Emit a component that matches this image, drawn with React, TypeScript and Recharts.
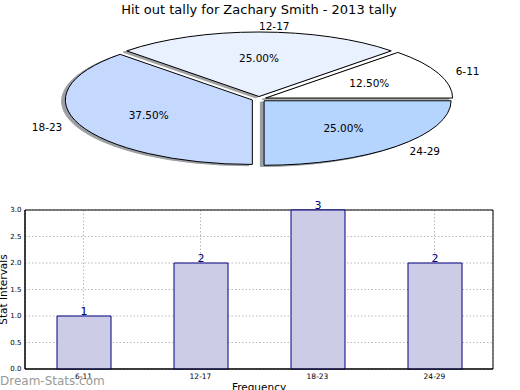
import React from "react";
import {
  PieChart, Pie, Cell, BarChart, Bar, XAxis, YAxis, CartesianGrid, LabelList, ReferenceArea,
} from "recharts";

const ageGroups = ["6-11", "12-17", "18-23", "24-29"];
const hitOuts = [1, 2, 3, 2];
const sliceColors = ["#ffffff", "#eaf1fe", "#c5d8fe", "#b5d5fe"];
const yTicks = [0, 0.5, 1, 1.5, 2, 2.5, 3];

const pieData = ageGroups.map((g, i) => ({ name: g, value: hitOuts[i] }));
const barData = ageGroups.map((g, i) => ({ group: g, count: hitOuts[i] }));

const FONT = "'DejaVu Sans', sans-serif";
const SQUASH = 0.345; // the pie is drawn on a non-square axes, so it comes out flat
const EXPLODE = 0.0385;
const RAD = Math.PI / 180;

function wedgePath(p: any, dx = 0, dy = 0) {
  const rx = p.outerRadius;
  const ry = p.outerRadius * SQUASH;
  const ox = p.cx + dx + EXPLODE * rx * Math.cos(p.midAngle * RAD);
  const oy = p.cy + dy - EXPLODE * ry * Math.sin(p.midAngle * RAD);
  const pt = (a: number) => [ox + rx * Math.cos(a * RAD), oy - ry * Math.sin(a * RAD)];
  const [x0, y0] = pt(p.startAngle);
  const [x1, y1] = pt(p.endAngle);
  const large = Math.abs(p.endAngle - p.startAngle) > 180 ? 1 : 0;
  return `M${ox},${oy}L${x0},${y0}A${rx},${ry} 0 ${large} 0 ${x1},${y1}Z`;
}

function shade(hex: string) {
  const n = parseInt(hex.slice(1), 16);
  const c = [(n >> 16) & 255, (n >> 8) & 255, n & 255].map((v) => Math.round(v * 0.3));
  return `rgb(${c.join(",")})`;
}

const ShadowWedge = (p: any) => {
  const dx = -0.02 * p.outerRadius;
  const dy = 0.02 * p.outerRadius * SQUASH;
  const col = shade(p.fill || "#ffffff");
  return <path d={wedgePath(p, dx, dy)} fill={col} stroke={col} opacity={0.5} />;
};

const Wedge = (p: any) => (
  <path d={wedgePath(p)} fill={p.fill} stroke="#000" strokeWidth={1} />
);

const renderLabels = (p: any) => {
  const rx = p.outerRadius;
  const ry = p.outerRadius * SQUASH;
  const c = Math.cos(p.midAngle * RAD);
  const s = Math.sin(p.midAngle * RAD);
  const name = p.name ?? p.payload?.name;
  return (
    <g>
      <text
        x={p.cx + (EXPLODE + 1.1) * rx * c}
        y={p.cy - (EXPLODE + 1.1) * ry * s}
        textAnchor={c > 0 ? "start" : "end"}
        dominantBaseline="central"
        fontSize={10.5}
        fontFamily={FONT}
        fill="#000"
      >
        {name}
      </text>
      <text
        x={p.cx + (EXPLODE + 0.6) * rx * c}
        y={p.cy - (EXPLODE + 0.6) * ry * s}
        textAnchor="middle"
        dominantBaseline="central"
        fontSize={10.5}
        fontFamily={FONT}
        fill="#000"
      >
        {(p.percent * 100).toFixed(2)}%
      </text>
    </g>
  );
};

export default function App() {
  return (
    <div
      style={{
        position: "absolute", left: 0, top: 0, width: 520, height: 390,
        overflow: "hidden", background: "#fff", fontFamily: FONT,
      }}
    >
      <div
        style={{
          position: "absolute", top: 1, left: 0, width: 518, textAlign: "center",
          fontSize: 13, lineHeight: "18px", color: "#000",
        }}
      >
        Hit out tally for Zachary Smith - 2013 tally
      </div>

      <div style={{ position: "absolute", left: 0, top: 0 }}>
        <PieChart width={520} height={190} margin={{ top: 0, right: 0, bottom: 0, left: 0 }}>
          <Pie
            data={pieData}
            dataKey="value"
            nameKey="name"
            cx={259}
            cy={99}
            outerRadius={187}
            startAngle={0}
            endAngle={360}
            shape={ShadowWedge}
            stroke="none"
            isAnimationActive={false}
          >
            {pieData.map((d, i) => (
              <Cell key={d.name} fill={sliceColors[i]} />
            ))}
          </Pie>
          <Pie
            data={pieData}
            dataKey="value"
            nameKey="name"
            cx={259}
            cy={99}
            outerRadius={187}
            startAngle={0}
            endAngle={360}
            shape={Wedge}
            label={renderLabels}
            labelLine={false}
            isAnimationActive={false}
          >
            {pieData.map((d, i) => (
              <Cell key={d.name} fill={sliceColors[i]} />
            ))}
          </Pie>
        </PieChart>
      </div>

      <div style={{ position: "absolute", left: 0, top: 195 }}>
        <BarChart
          width={520}
          height={205}
          data={barData}
          margin={{ top: 15, right: 27, bottom: 0, left: 0 }}
          barSize={54}
        >
          <XAxis
            dataKey="group"
            height={31}
            interval={0}
            tickSize={0}
            tickMargin={5}
            axisLine={{ stroke: "#000" }}
            tick={{ fontSize: 7.5, fill: "#000", fontFamily: FONT }}
            label={{
              value: "Frequency", position: "insideBottom", offset: 9,
              fontSize: 10.5, fill: "#000", fontFamily: FONT,
            }}
          />
          <YAxis
            width={25}
            domain={[0, 3]}
            ticks={yTicks}
            tickSize={0}
            tickMargin={3.5}
            tickFormatter={(v: number) => v.toFixed(1)}
            axisLine={{ stroke: "#000" }}
            tick={{ fontSize: 7, fill: "#000", fontFamily: FONT }}
            label={{
              value: "Stat Intervals", angle: -90, position: "insideLeft", offset: 3.5,
              textAnchor: "middle", fontSize: 10.5, fill: "#000", fontFamily: FONT,
            }}
          />
          <Bar dataKey="count" fill="#ccccE6" stroke="#000080" isAnimationActive={false}>
            <LabelList
              dataKey="count"
              position="top"
              offset={1}
              fill="#000080"
              fontSize={11}
              fontFamily={FONT}
            />
          </Bar>
          <CartesianGrid strokeDasharray="1.5 2" stroke="#b8b8b8" />
          {/* frame round the plot area */}
          <ReferenceArea y1={0} y2={3} fill="none" stroke="#000" strokeWidth={1} />
        </BarChart>
      </div>

      <div
        style={{
          position: "absolute", left: 0, top: 374, fontSize: 12, lineHeight: "14px",
          color: "#999", whiteSpace: "nowrap",
        }}
      >
        Dream-Stats.com
      </div>
    </div>
  );
}
